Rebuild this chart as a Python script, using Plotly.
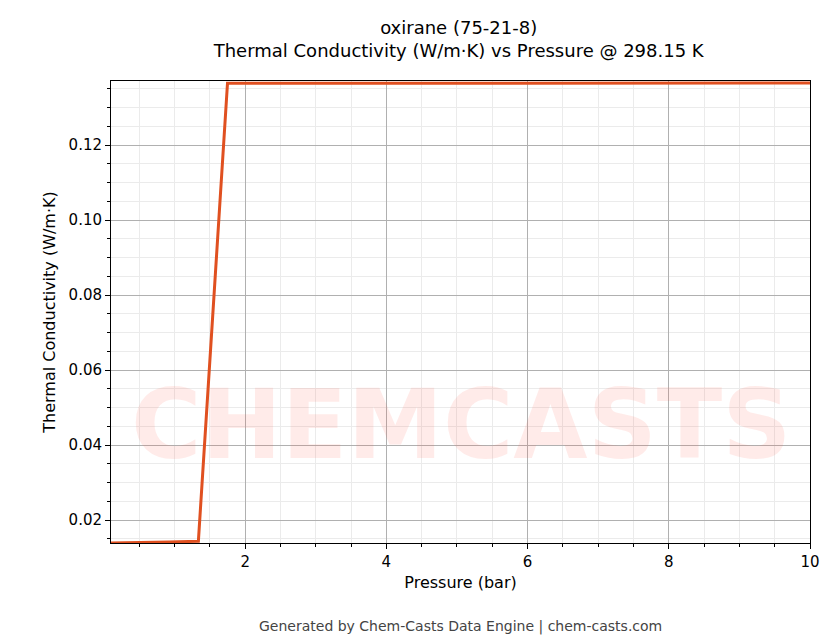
import plotly.graph_objects as go

# pressure grid (bar) and thermal conductivity (W/m·K)
pressure = [0.1, 0.5125, 0.925, 1.3375, 1.75, 2.1625, 2.575, 2.9875, 3.4, 3.8125,
            4.225, 4.6375, 5.05, 5.4625, 5.875, 6.2875, 6.7, 7.1125, 7.525, 7.9375,
            8.35, 8.7625, 9.175, 9.5875, 10.0]
conductivity = [0.01390, 0.01398, 0.01412, 0.01435, 0.13650, 0.13650, 0.13650, 0.13651,
                0.13651, 0.13651, 0.13652, 0.13652, 0.13652, 0.13653, 0.13653, 0.13653,
                0.13654, 0.13654, 0.13654, 0.13655, 0.13655, 0.13655, 0.13656, 0.13656,
                0.13656]

fig = go.Figure()
fig.add_trace(go.Scatter(x=pressure, y=conductivity, mode="lines",
                         line=dict(color="#e05020", width=3), showlegend=False))

axis_common = dict(showline=True, linecolor="black", linewidth=1, mirror=True,
                   ticks="outside", ticklen=5, tickcolor="black",
                   showgrid=True, gridcolor="#b0b0b0", gridwidth=0.8,
                   minor=dict(ticks="outside", ticklen=3, tickcolor="black",
                              showgrid=True, gridcolor="#ebebeb", gridwidth=0.5),
                   zeroline=False, tickfont=dict(size=15, color="black"),
                   title_font=dict(size=16, color="black"))

fig.update_xaxes(range=[0.1, 10], dtick=2, tick0=0, minor_dtick=0.5,
                 title_text="Pressure (bar)", title_standoff=6, **axis_common)
fig.update_yaxes(range=[0.01387, 0.1371], dtick=0.02, tick0=0, minor_dtick=0.005,
                 tickformat=".2f", title_text="Thermal Conductivity (W/m·K)",
                 title_standoff=8, **axis_common)

fig.add_annotation(text="<b>CHEMCASTS</b>", x=0.5, y=0.13, xref="paper", yref="paper",
                   showarrow=False, font=dict(size=96, color="rgba(255,90,70,0.12)",
                                              family="DejaVu Sans"))
fig.add_annotation(text="Generated by Chem-Casts Data Engine | chem-casts.com",
                   x=0.5, y=-0.18, xref="paper", yref="paper", xanchor="center",
                   yanchor="middle", showarrow=False,
                   font=dict(size=14, color="#444444"))

fig.update_layout(
    width=830, height=644,
    paper_bgcolor="white", plot_bgcolor="white",
    font=dict(family="DejaVu Sans"),
    title=dict(text="oxirane (75-21-8)<br>Thermal Conductivity (W/m·K) vs Pressure @ 298.15 K",
               x=0.543, xanchor="center", y=0.96, yanchor="top",
               font=dict(size=18, color="black")),
    margin=dict(l=103, r=28, t=73, b=109),
)

fig.write_html("out.html")
